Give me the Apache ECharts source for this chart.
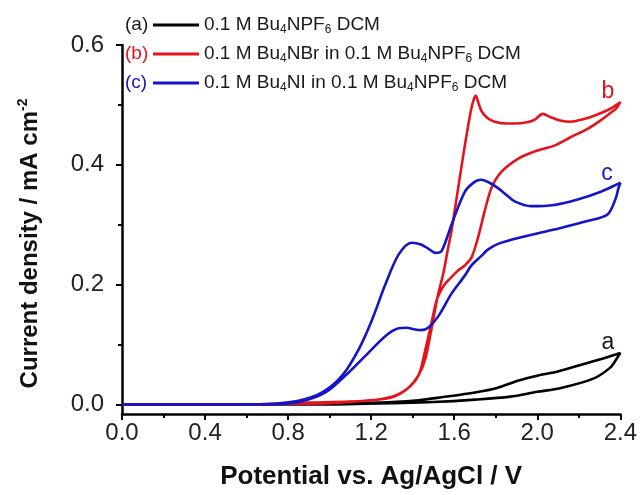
<!DOCTYPE html>
<html>
<head>
<meta charset="utf-8">
<script src="https://cdn.jsdelivr.net/npm/echarts@6/dist/echarts.min.js"></script>
<style>
html,body{margin:0;padding:0;background:#fff;}
#chart{width:640px;height:495px;}
</style>
</head>
<body>
<div id="chart"></div>
<script>
// ---- Data (potential in V vs Ag/AgCl, current density in mA cm^-2) ----
const xTicks = [0, 0.4, 0.8, 1.2, 1.6, 2.0, 2.4];
const yTicks = [0, 0.2, 0.4, 0.6];
const yMinorTicks = [0.1, 0.3, 0.5];

// (a) 0.1 M Bu4NPF6 DCM
const potentialA = [0, 0.6, 0.8, 1.0, 1.17, 1.3, 1.5, 1.7, 1.87, 2.0, 2.11, 2.27, 2.35, 2.38, 2.4,
                    2.3, 2.19, 2.1, 2.0, 1.91, 1.81, 1.7, 1.54, 1.43, 1.3, 1.1, 0.8, 0];
const currentA   = [0, 0, 0, 0, 0.001, 0.002, 0.004, 0.008, 0.013, 0.021, 0.027, 0.043, 0.061, 0.075, 0.086,
                    0.075, 0.064, 0.055, 0.048, 0.04, 0.028, 0.02, 0.012, 0.007, 0.004, 0.002, 0, 0];

// (b) 0.1 M Bu4NBr in 0.1 M Bu4NPF6 DCM
const potentialB = [0, 0.6, 0.8, 1.0, 1.17, 1.3, 1.38, 1.43, 1.46, 1.49, 1.52, 1.547, 1.571, 1.587, 1.619, 1.651, 1.68, 1.695, 1.704,
                    1.715, 1.731, 1.76, 1.795, 1.85, 1.891, 1.95, 1.99, 2.026, 2.066, 2.11, 2.162, 2.22, 2.274, 2.354, 2.394, 2.4,
                    2.38, 2.354, 2.3, 2.242, 2.16, 2.082, 2.002, 1.907, 1.827, 1.779, 1.747, 1.715, 1.683, 1.651, 1.62, 1.588, 1.56, 1.54,
                    1.516, 1.49, 1.46, 1.43, 1.38, 1.3, 1.17, 0.9, 0.6, 0];
const currentB   = [0, 0, 0.001, 0.002, 0.006, 0.012, 0.028, 0.05, 0.075, 0.125, 0.18, 0.218, 0.262, 0.29, 0.361, 0.432, 0.49, 0.51, 0.515,
                    0.505, 0.49, 0.478, 0.472, 0.469, 0.469, 0.471, 0.476, 0.485, 0.479, 0.474, 0.472, 0.476, 0.482, 0.494, 0.503, 0.505,
                    0.494, 0.487, 0.473, 0.46, 0.446, 0.432, 0.424, 0.41, 0.388, 0.361, 0.323, 0.279, 0.245, 0.232, 0.224, 0.213, 0.203, 0.193,
                    0.175, 0.135, 0.09, 0.05, 0.028, 0.013, 0.006, 0.003, 0, 0];

// (c) 0.1 M Bu4NI in 0.1 M Bu4NPF6 DCM
const potentialC = [0, 0.6, 0.72, 0.85, 0.964, 1.06, 1.14, 1.204, 1.268, 1.332, 1.395, 1.44, 1.475, 1.51, 1.539, 1.587, 1.651, 1.7, 1.731,
                    1.77, 1.811, 1.85, 1.891, 1.97, 2.082, 2.194, 2.306, 2.394, 2.4,
                    2.39, 2.378, 2.338, 2.242, 2.082, 1.922, 1.811, 1.76, 1.731, 1.683, 1.651, 1.587, 1.523, 1.475, 1.44, 1.412, 1.37, 1.332,
                    1.268, 1.172, 1.076, 0.98, 0.85, 0.69, 0];
const currentC   = [0, 0, 0.001, 0.006, 0.02, 0.048, 0.092, 0.141, 0.2, 0.25, 0.27, 0.267, 0.26, 0.253, 0.256, 0.3, 0.355, 0.372, 0.375,
                    0.37, 0.361, 0.35, 0.339, 0.331, 0.333, 0.342, 0.355, 0.369, 0.37,
                    0.36, 0.344, 0.317, 0.306, 0.292, 0.279, 0.268, 0.258, 0.248, 0.232, 0.215, 0.185, 0.147, 0.128, 0.124, 0.125, 0.128, 0.127,
                    0.114, 0.081, 0.048, 0.02, 0.004, 0, 0];

const seriesNames = ['a', 'b', 'c'];
const seriesColors = ['#000000', '#e3141b', '#1414c8'];
const legendTexts = {
  a: '0.1 M Bu{sub|4}NPF{sub|6} DCM',
  b: '0.1 M Bu{sub|4}NBr in 0.1 M Bu{sub|4}NPF{sub|6} DCM',
  c: '0.1 M Bu{sub|4}NI in 0.1 M Bu{sub|4}NPF{sub|6} DCM'
};

function zip(xs, ys) { return xs.map((x, i) => [x, ys[i]]); }

const FONT = 'Liberation Sans, Arial, sans-serif';
const chart = echarts.init(document.getElementById('chart'), null, {renderer: 'canvas'});

const mkSeries = (name, xs, ys, color) => ({
  name: name,
  type: 'line',
  data: zip(xs, ys),
  showSymbol: false,
  symbol: 'none',
  smooth: 0.3,
  lineStyle: {color: color, width: 2.6},
  itemStyle: {color: color},
  animation: false
});

const option = {
  animation: false,
  backgroundColor: '#ffffff',
  grid: {left: 122, right: 17, top: 45, bottom: 76},
  legend: {
    orient: 'vertical',
    left: 153,
    top: 14,
    padding: 0,
    itemGap: 7,
    itemWidth: 46,
    itemHeight: 3,
    icon: 'rect',
    selectedMode: false,
    data: seriesNames,
    formatter: n => legendTexts[n],
    textStyle: {
      fontFamily: FONT, fontSize: 19, color: '#1a1a1a', lineHeight: 22,
      rich: {
        sub: {fontFamily: FONT, fontSize: 12, color: '#1a1a1a', verticalAlign: 'bottom', lineHeight: 12}
      }
    }
  },
  xAxis: {
    type: 'value',
    min: 0, max: 2.4, interval: 0.4,
    name: 'Potential vs. Ag/AgCl / V',
    nameLocation: 'middle',
    nameGap: 50,
    nameTextStyle: {fontFamily: FONT, fontSize: 26, fontWeight: 'bold', color: '#111'},
    axisLine: {show: true, onZero: false, lineStyle: {color: '#000', width: 2.5}},
    axisTick: {show: true, length: 6, lineStyle: {color: '#000', width: 2}},
    minorTick: {show: true, splitNumber: 2, length: 4, lineStyle: {color: '#000', width: 2}},
    splitLine: {show: false},
    axisLabel: {
      margin: 7, fontFamily: FONT, fontSize: 24, color: '#222',
      customValues: xTicks,
      formatter: v => v.toFixed(1)
    }
  },
  yAxis: [{
    type: 'value',
    min: -0.016, max: 0.6,
    name: 'Current density / mA cm{sup|-2}',
    nameLocation: 'middle',
    nameGap: 78,
    nameRotate: 90,
    nameTextStyle: {
      fontFamily: FONT, fontSize: 24, fontWeight: 'bold', color: '#111', lineHeight: 28,
      padding: [0, 28, 0, 0],
      rich: {sup: {fontFamily: FONT, fontSize: 14, fontWeight: 'bold', color: '#111', verticalAlign: 'top', lineHeight: 14}}
    },
    axisLine: {show: true, onZero: false, lineStyle: {color: '#000', width: 2.5}},
    axisTick: {show: true, length: 6, customValues: yTicks, lineStyle: {color: '#000', width: 2}},
    splitLine: {show: false},
    axisLabel: {
      margin: 18, fontFamily: FONT, fontSize: 24, color: '#222',
      customValues: yTicks,
      formatter: v => v.toFixed(1)
    }
  }, {
    type: 'value',
    min: -0.016, max: 0.6,
    position: 'left',
    axisLine: {show: false},
    axisTick: {show: true, length: 4, customValues: yMinorTicks, lineStyle: {color: '#000', width: 2}},
    axisLabel: {show: false},
    splitLine: {show: false}
  }],
  graphic: [
    {type: 'text', x: 125, y: 25, style: {text: '(a)', fontFamily: FONT, fontSize: 19, fill: '#1a1a1a', verticalAlign: 'middle'}},
    {type: 'text', x: 125, y: 54, style: {text: '(b)', fontFamily: FONT, fontSize: 19, fill: seriesColors[1], verticalAlign: 'middle'}},
    {type: 'text', x: 125, y: 83, style: {text: '(c)', fontFamily: FONT, fontSize: 19, fill: seriesColors[2], verticalAlign: 'middle'}},
    {type: 'text', x: 608, y: 343, style: {text: 'a', fontFamily: FONT, fontSize: 23, fill: '#1a1a1a', align: 'center', verticalAlign: 'middle'}},
    {type: 'text', x: 608, y: 92, style: {text: 'b', fontFamily: FONT, fontSize: 23, fill: seriesColors[1], align: 'center', verticalAlign: 'middle'}},
    {type: 'text', x: 607, y: 174, style: {text: 'c', fontFamily: FONT, fontSize: 23, fill: seriesColors[2], align: 'center', verticalAlign: 'middle'}}
  ],
  series: [
    mkSeries('a', potentialA, currentA, seriesColors[0]),
    mkSeries('b', potentialB, currentB, seriesColors[1]),
    mkSeries('c', potentialC, currentC, seriesColors[2])
  ]
};
chart.setOption(option);
</script>
</body>
</html>
